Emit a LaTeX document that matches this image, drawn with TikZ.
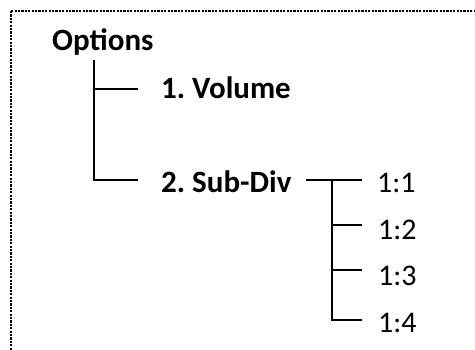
\documentclass[tikz,border=0pt]{standalone}
\usepackage{fontspec}
\setmainfont{Carlito}
\frenchspacing
\begin{document}
\begin{tikzpicture}[x=1pt,y=-1pt,
  branch/.style={line width=2.8pt, line join=miter},
  frame/.style={line width=2.4pt, dash pattern=on 2.2pt off 1.2pt},
  label/.style={anchor=base west, inner sep=0pt, font=\fontsize{30}{36}\selectfont},
  head/.style={label, font=\fontsize{31}{37}\selectfont\bfseries}]
\useasboundingbox (0,0) rectangle (475,349);
% dotted outer frame, running past the right and bottom edges
\draw[frame] (11,11) rectangle (500,380);

% first level
\node[head] (opt) at (52,50) {Options};
\node[head] (vol) at (161,98) {1. Volume};
\node[head] (sub) at (161,192) {2. Sub-Div};
\coordinate (ot) at (94,60);
\coordinate (cv) at (138,89);
\coordinate (cs) at (138,180);
\draw[branch] (ot) |- (cv);
\draw[branch] (ot) |- (cs);

% second level under Sub-Div
\node[label] (r1) at (377,192) {1:1};
\node[label] (r2) at (378,239) {1:2};
\node[label] (r3) at (378,285) {1:3};
\node[label] (r4) at (378,332) {1:4};
\coordinate (s0) at (306,180);
\coordinate (sj) at (332,180);
\coordinate (c1) at (362,180);
\coordinate (c2) at (362,225);
\coordinate (c3) at (362,270);
\coordinate (c4) at (362,320);
\draw[branch] (s0) -- (c1);
\draw[branch] (sj) |- (c2);
\draw[branch] (sj) |- (c3);
\draw[branch] (sj) |- (c4);
\end{tikzpicture}
\end{document}
